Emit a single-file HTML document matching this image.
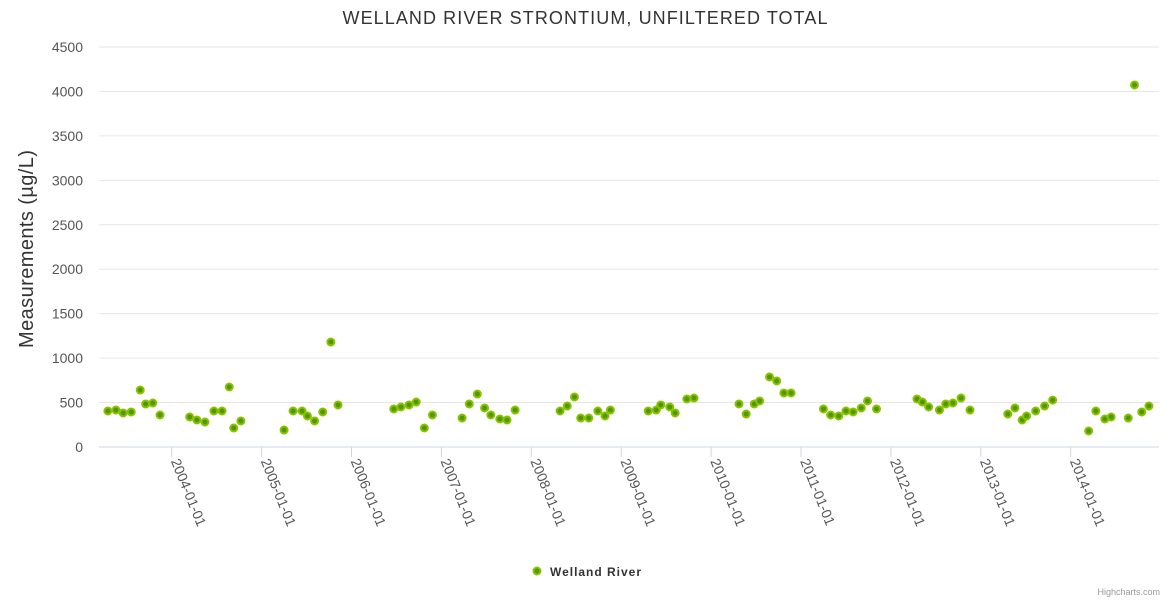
<!DOCTYPE html>
<html><head><meta charset="utf-8"><style>
body{margin:0;background:#fff;}
svg{display:block;font-family:"Liberation Sans",sans-serif;}
</style></head><body>
<svg id="chart" width="1170" height="600">
<text x="585" y="24" text-anchor="middle" font-size="18" fill="#333" textLength="485" lengthAdjust="spacing">WELLAND RIVER STRONTIUM, UNFILTERED TOTAL</text>
<text transform="translate(33,249) rotate(-90)" text-anchor="middle" font-size="20" fill="#333" textLength="198">Measurements (µg/L)</text>
<g id="grid"></g><g id="xaxis"></g><g id="pts"></g>
<g>
<circle cx="537" cy="571" r="3.5" fill="#4a9a00" stroke="#8cc000" stroke-width="2"/>
<text x="550" y="576" font-size="12" font-weight="bold" fill="#333" textLength="91">Welland River</text>
</g>
<text x="1160" y="595" text-anchor="end" font-size="9" fill="#999">Highcharts.com</text>
</svg>
<script>
const yTicks=[0,500,1000,1500,2000,2500,3000,3500,4000,4500];
const xTickYears=[2004,2005,2006,2007,2008,2009,2010,2011,2012,2013,2014];
const dates=[2003.29,2003.38,2003.46,2003.55,2003.65,2003.71,2003.79,2003.87,2004.20,2004.28,2004.37,2004.47,2004.56,2004.64,2004.69,2004.77,2005.25,2005.35,2005.45,2005.51,2005.59,2005.68,2005.77,2005.85,2006.47,2006.55,2006.64,2006.72,2006.81,2006.90,2007.23,2007.31,2007.40,2007.48,2007.55,2007.65,2007.73,2007.82,2008.32,2008.40,2008.48,2008.55,2008.64,2008.74,2008.82,2008.88,2009.30,2009.39,2009.44,2009.54,2009.60,2009.73,2009.81,2010.31,2010.39,2010.48,2010.54,2010.65,2010.73,2010.81,2010.89,2011.25,2011.33,2011.42,2011.50,2011.58,2011.67,2011.74,2011.84,2012.29,2012.35,2012.42,2012.54,2012.61,2012.69,2012.78,2012.88,2013.30,2013.38,2013.46,2013.51,2013.61,2013.71,2013.80,2014.20,2014.28,2014.38,2014.45,2014.64,2014.71,2014.79,2014.87];
const values=[405,416,383,394,641,484,495,360,338,304,281,405,405,675,214,293,191,405,405,349,293,394,1181,473,428,450,473,506,214,360,326,484,596,439,360,315,304,416,405,461,563,326,326,405,349,416,405,416,473,450,383,540,551,484,371,484,518,788,743,608,608,428,360,349,405,394,439,518,428,540,506,450,416,484,495,551,416,371,439,304,349,405,461,528,180,405,315,338,326,4073,394,461];
const ns="http://www.w3.org/2000/svg";
const X0=99,X1=1159,Y0=447,Y1=47;
const x=y=>171.7+(y-2004)*89.9;
const yv=v=>Y0-(v/4500)*(Y0-Y1);
function mk(t,a,p){const e=document.createElementNS(ns,t);for(const k in a)e.setAttribute(k,a[k]);p.appendChild(e);return e;}
const g=document.getElementById('grid');
yTicks.forEach(v=>{
 const l=mk('line',{x1:X0,x2:X1,y1:yv(v),y2:yv(v),stroke:v===0?'#ccd6eb':'#e6e6e6','stroke-width':1},g);
 
 
 const t=mk('text',{x:83,y:yv(v)+5,'text-anchor':'end','font-size':14,fill:'#555'},g);
 t.textContent=v;
 
 
});
const xa=document.getElementById('xaxis');
xTickYears.forEach(yr=>{
 const px=x(yr);
 const l=mk('line',{x1:px,x2:px,y1:Y0,y2:Y0+10,stroke:'#ccd6eb'},xa);
 
 
 const t=mk('text',{transform:`translate(${px-1},${Y0+14}) rotate(68)`,'font-size':14,fill:'#555'},xa);
 t.textContent=yr+'-01-01';
 
 
});
const p=document.getElementById('pts');
dates.forEach((d,i)=>{
 const c=mk('circle',{cx:x(d),cy:yv(values[i]),r:3.5,fill:'#4a9a00',stroke:'#8cc000','stroke-width':2},p);
 
 
});
</script>
</body></html>
